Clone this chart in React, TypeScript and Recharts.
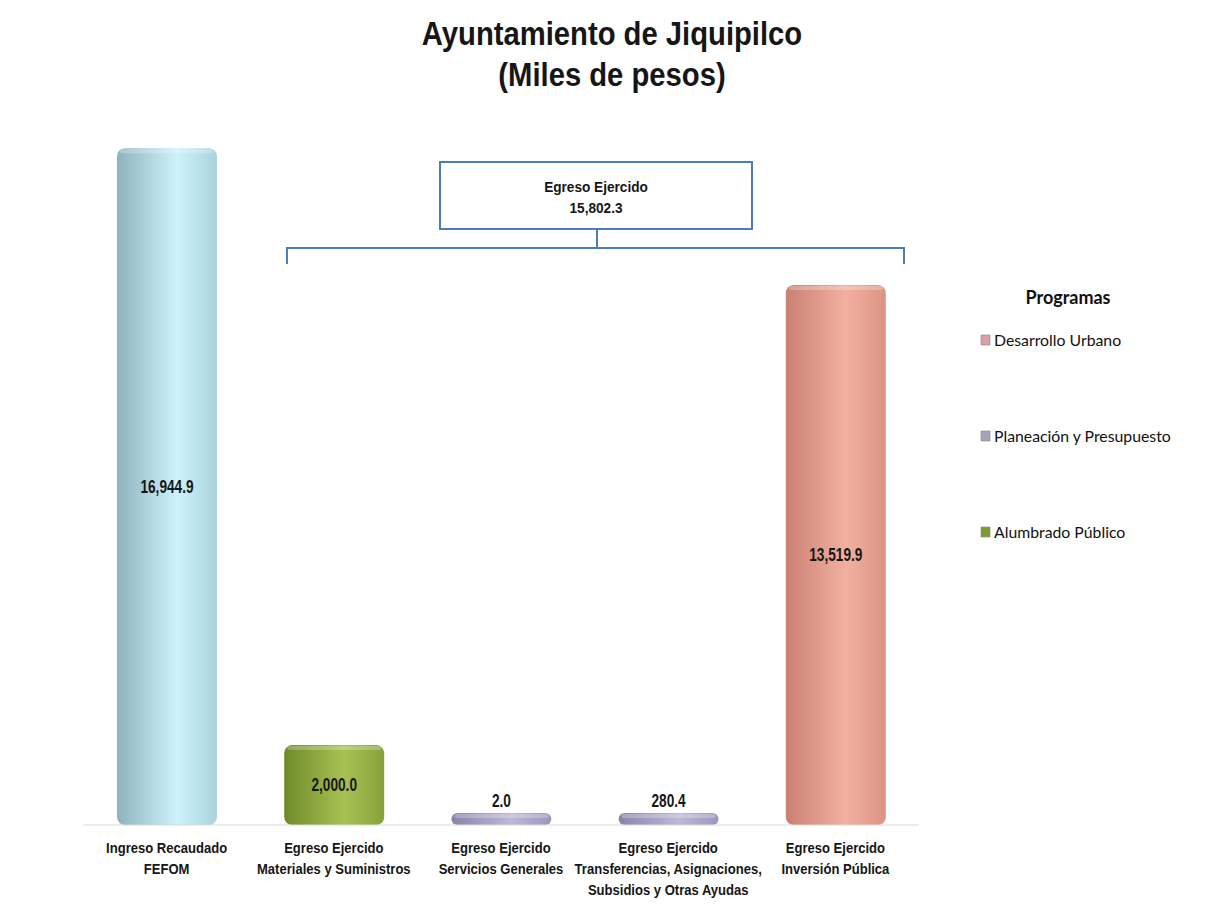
import React from "react";
import { BarChart, Bar, XAxis, YAxis, Cell, LabelList } from "recharts";

const categories = [
  ["Ingreso Recaudado", "FEFOM"],
  ["Egreso Ejercido", "Materiales y Suministros"],
  ["Egreso Ejercido", "Servicios Generales"],
  ["Egreso Ejercido", "Transferencias, Asignaciones,", "Subsidios y Otras Ayudas"],
  ["Egreso Ejercido", "Inversión Pública"],
];
const amounts = [16944.9, 2000.0, 2.0, 280.4, 13519.9];
const barColors = [
  ["#8fb3bd", "#cdf2fa", "#a9d3dd"],
  ["#6f8a2a", "#a7c152", "#86a23a"],
  ["#8a84a8", "#bdb8d6", "#9d97bb"],
  ["#8a84a8", "#bdb8d6", "#9d97bb"],
  ["#c98072", "#f2b0a0", "#dc9484"],
];
const legendItems = ["Desarrollo Urbano", "Planeación y Presupuesto", "Alumbrado Público"];
const legendColors = ["#d9a0a8", "#a6a3b8", "#7d9a35"];
const totalEgreso = 15802.3;

const data = categories.map((lines, i) => ({ name: lines.join(" "), lines, value: amounts[i] }));

const sans = "'Liberation Sans', Arial, sans-serif";
const fmt = (v: number) =>
  v.toLocaleString("en-US", { minimumFractionDigits: 1, maximumFractionDigits: 1 });

// condensed bold text (stand-in for Arial Narrow / Calibri bold)
function Narrow({ x, y, size, sx, children, weight = "bold", family = sans }: any) {
  return (
    <text
      transform={`translate(${x},${y}) scale(${sx},1)`}
      textAnchor="middle"
      fontFamily={family}
      fontWeight={weight}
      fontSize={size}
      fill="#161616"
    >
      {children}
    </text>
  );
}

function CategoryTick(props: any) {
  const { x, y, index } = props;
  const lines = categories[index] ?? [];
  return (
    <g>
      {lines.map((l, i) => (
        <Narrow key={i} x={x} y={y + 20 + i * 21} size={14.5} sx={0.9}>
          {l}
        </Narrow>
      ))}
    </g>
  );
}

function Cylinder(props: any) {
  const { x, y, width, height, index } = props;
  const r = Math.min(8, height / 2);
  return (
    <g>
      <rect x={x} y={y} width={width} height={height} rx={r} ry={r} fill={`url(#bar${index})`} />
      <rect
        x={x + 3}
        y={y + 1}
        width={width - 6}
        height={Math.min(4, height / 3)}
        rx={2}
        fill="#ffffff"
        opacity={0.25}
      />
    </g>
  );
}

function ValueLabel(props: any) {
  const { x, y, width, height, value } = props;
  const inside = height > 30;
  return (
    <Narrow x={x + width / 2} y={inside ? y + height / 2 + 6 : y - 6} size={18} sx={0.76}>
      {fmt(value)}
    </Narrow>
  );
}

export default function App() {
  return (
    <div
      style={{
        position: "absolute",
        left: 0,
        top: 0,
        width: 1205,
        height: 905,
        background: "#fff",
      }}
    >
      <BarChart
        width={1205}
        height={905}
        data={data}
        margin={{ top: 146, right: 286, bottom: 0, left: 83 }}
      >
        <defs>
          {barColors.map((c, i) => (
            <linearGradient key={i} id={`bar${i}`} x1="0" y1="0" x2="1" y2="0">
              <stop offset="0%" stopColor={c[0]} />
              <stop offset="60%" stopColor={c[1]} />
              <stop offset="100%" stopColor={c[2]} />
            </linearGradient>
          ))}
        </defs>
        <XAxis
          dataKey="name"
          height={80}
          interval={0}
          tickLine={false}
          axisLine={{ stroke: "#d9d9d9" }}
          tick={<CategoryTick />}
        />
        <YAxis hide domain={[0, 17000]} />
        <Bar
          dataKey="value"
          barSize={100}
          minPointSize={12}
          shape={<Cylinder />}
          isAnimationActive={false}
        >
          {data.map((d, i) => (
            <Cell key={d.name} fill={`url(#bar${i})`} />
          ))}
          <LabelList dataKey="value" content={<ValueLabel />} />
        </Bar>
      </BarChart>

      <svg
        width={1205}
        height={905}
        style={{ position: "absolute", left: 0, top: 0, pointerEvents: "none" }}
      >
        <Narrow x={612} y={45} size={34} sx={0.86}>
          Ayuntamiento de Jiquipilco
        </Narrow>
        <Narrow x={612} y={86} size={34} sx={0.86}>
          (Miles de pesos)
        </Narrow>

        <rect x={440} y={162} width={312} height={67} fill="#fff" stroke="#4a7ebb" strokeWidth={2} />
        <Narrow x={596} y={192} size={15.5} sx={0.88}>
          Egreso Ejercido
        </Narrow>
        <Narrow x={596} y={213} size={15.5} sx={0.88}>
          {fmt(totalEgreso)}
        </Narrow>
        <path
          d="M287 264 L287 248 L904 248 L904 264 M597 229 L597 248"
          fill="none"
          stroke="#4a7ebb"
          strokeWidth={2}
        />

        <text
          x={1068}
          y={304}
          textAnchor="middle"
          fontFamily="Lato, 'Open Sans', sans-serif"
          fontWeight="bold"
          fontSize={18}
          fill="#111"
        >
          Programas
        </text>
        {legendItems.map((item, i) => (
          <g key={item}>
            <rect
              x={981}
              y={335 + i * 96}
              width={9}
              height={10}
              fill={legendColors[i]}
              stroke="#888"
              strokeWidth={0.6}
            />
            <text
              x={994}
              y={346 + i * 96}
              fontFamily="Lato, 'Open Sans', sans-serif"
              fontSize={15.8}
              fill="#111"
            >
              {item}
            </text>
          </g>
        ))}
      </svg>
    </div>
  );
}
